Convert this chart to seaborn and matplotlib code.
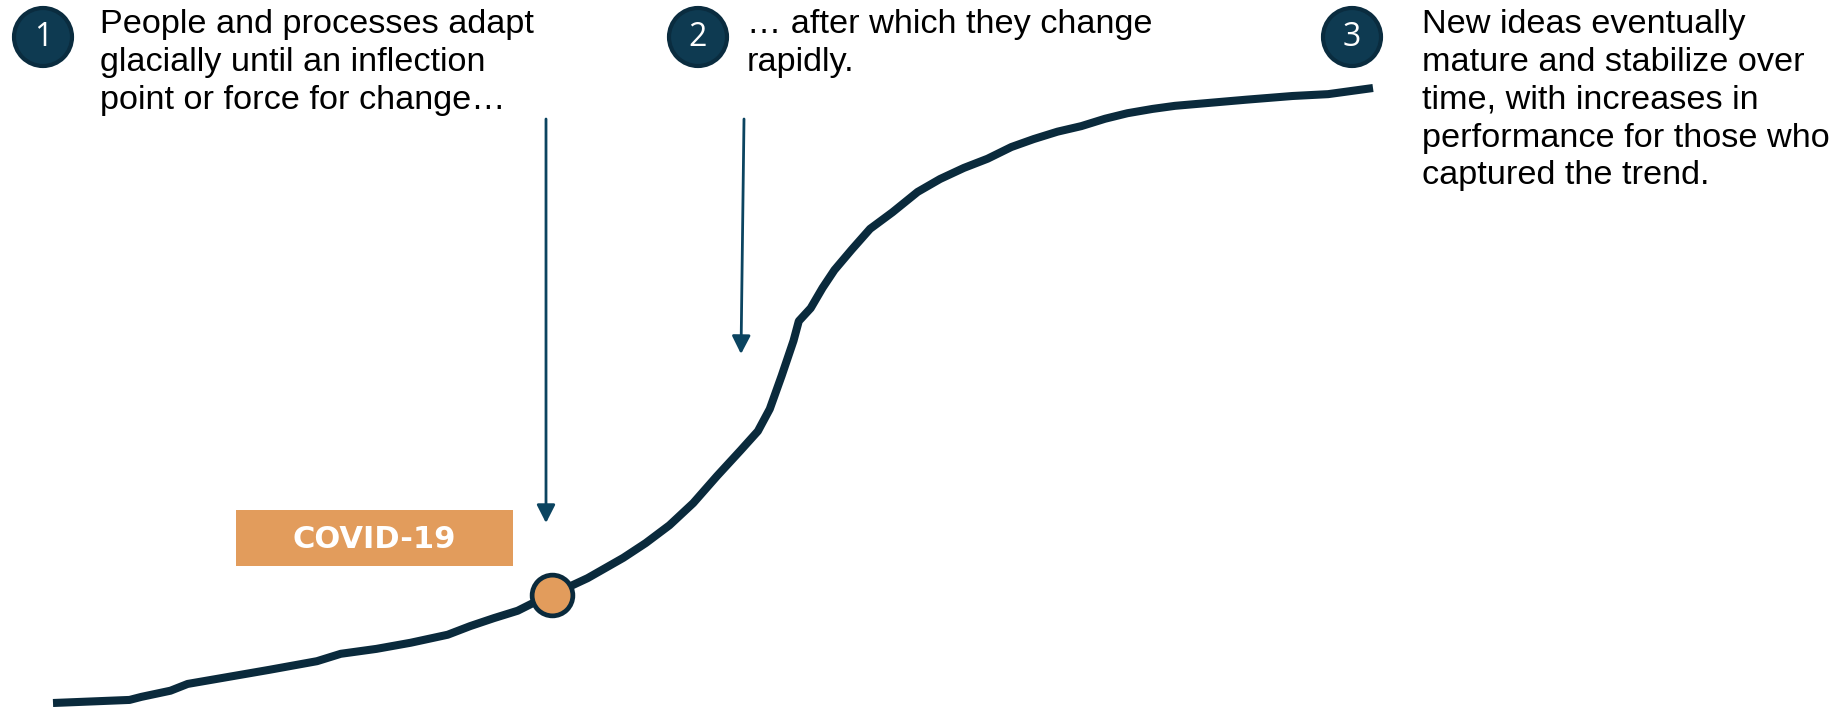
import matplotlib
matplotlib.use("Agg")
import matplotlib.pyplot as plt
from matplotlib.patches import Ellipse, Rectangle, FancyArrowPatch
import seaborn as sns
import pandas as pd

# Adoption curve: time (0-100) vs. level of change (0-100)
time = [0, 5.8, 6.7, 8.9, 10.2, 12.9, 16.4, 20.0, 21.8, 24.5, 27.1, 29.9,
        31.6, 33.4, 35.2, 36.5, 37.8, 40.5, 43.2, 44.9, 46.7, 48.5, 50.3,
        52.1, 53.4, 54.3, 55.2, 56.1, 56.5, 57.4, 58.3, 59.2, 60.5, 61.9,
        63.6, 65.5, 67.2, 69.0, 70.8, 72.6, 74.3, 76.1, 77.9, 79.7, 81.4,
        83.3, 85.0, 87.7, 90.4, 93.9, 96.6, 100.0]
level = [0, 0.5, 1.0, 2.0, 3.1, 4.1, 5.4, 6.8, 8.0, 8.8, 9.8, 11.1,
         12.5, 13.8, 15.0, 16.4, 17.6, 20.3, 23.6, 26.0, 28.9, 32.5, 36.9,
         41.1, 44.2, 47.8, 53.2, 58.9, 62.1, 64.2, 67.5, 70.4, 73.7, 77.1,
         79.8, 83.1, 85.2, 87.0, 88.5, 90.4, 91.7, 92.9, 93.8, 95.0, 95.9,
         96.6, 97.1, 97.6, 98.1, 98.7, 99.0, 100.0]

# Inflection point marker
event_label = "COVID-19"
event_time = 37.8
event_level = 17.6

# Numbered callouts
step_numbers = ["1", "2", "3"]
step_texts = [
    "People and processes adapt\nglacially until an inflection\npoint or force for change…",
    "… after which they change\nrapidly.",
    "New ideas eventually\nmature and stabilize over\ntime, with increases in\nperformance for those who\ncaptured the trend.",
]

W, H = 1843, 707
NAVY = "#0a2a3c"
BADGE = "#0e3a51"
BADGE_EDGE = "#0a2c3f"
ARROW = "#0b4460"
ORANGE = "#e29c5c"

sns.set_theme(style="white")
plt.rcParams["font.family"] = ["Liberation Sans", "DejaVu Sans"]

fig = plt.figure(figsize=(W / 100, H / 100), dpi=100)
fig.patch.set_facecolor("white")


def fx(px):
    return px / W


def fy(py):
    return 1 - py / H


# Axes spanning the curve's extent
x0, x1, ytop, ybot = 53, 1373, 88, 703
ax = fig.add_axes([fx(x0), fy(ybot), (x1 - x0) / W, (ybot - ytop) / H])
ax.set_xlim(0, 100)
ax.set_ylim(0, 100)
ax.axis("off")

df = pd.DataFrame({"time": time, "level": level})
sns.lineplot(data=df, x="time", y="level", ax=ax, color=NAVY, linewidth=5.8,
             sort=False, estimator=None, clip_on=False)
for ln in ax.lines:
    ln.set_solid_capstyle("butt")
    ln.set_solid_joinstyle("round")

sns.scatterplot(x=[event_time], y=[event_level], ax=ax, s=860, color=ORANGE,
                edgecolor=NAVY, linewidth=3.4, zorder=5, clip_on=False,
                legend=False)

# Event label box
bx0, bx1, by0, by1 = 236, 513, 510, 566
fig.add_artist(Rectangle((fx(bx0), fy(by1)), (bx1 - bx0) / W, (by1 - by0) / H,
                         transform=fig.transFigure, facecolor=ORANGE,
                         edgecolor="none"))
fig.text(fx((bx0 + bx1) / 2), fy((by0 + by1) / 2 + 1), event_label,
         ha="center", va="center", color="white", fontsize=22,
         fontweight="bold", family=["DejaVu Sans"])

# Pointer arrows
for (xa, ya), (xb, yb) in [((546, 119), (546, 523)), ((744, 119), (741, 354))]:
    fig.add_artist(FancyArrowPatch(
        (fx(xa), fy(ya)), (fx(xb), fy(yb)), transform=fig.transFigure,
        arrowstyle="-|>,head_width=0.28,head_length=0.55", mutation_scale=20,
        color=ARROW, linewidth=2.0, shrinkA=0, shrinkB=0))

# Numbered badges and their captions
badge_x = [43, 698, 1352]
text_x = [100, 747, 1422]
for num, txt, bxc, tx in zip(step_numbers, step_texts, badge_x, text_x):
    fig.add_artist(Ellipse((fx(bxc), fy(37)), 58 / W, 58 / H,
                           transform=fig.transFigure, facecolor=BADGE,
                           edgecolor=BADGE_EDGE, linewidth=3))
    fig.text(fx(bxc), fy(38), num, ha="center", va="center", color="white",
             fontsize=23, family=["Open Sans", "DejaVu Sans"])
    fig.text(fx(tx), fy(9.5), txt, ha="left", va="top", color="black",
             fontsize=24.7, linespacing=1.28)

fig.savefig("out.png", dpi=100, facecolor="white")
